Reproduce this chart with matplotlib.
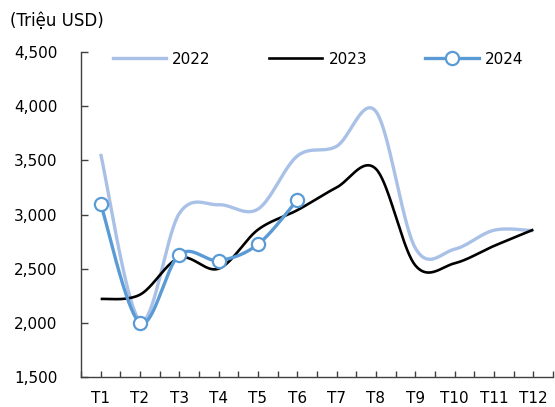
import numpy as np
import matplotlib
matplotlib.use("Agg")
import matplotlib.pyplot as plt
from matplotlib.lines import Line2D

months = ["T1", "T2", "T3", "T4", "T5", "T6", "T7", "T8", "T9", "T10", "T11", "T12"]
v2022 = [3560, 2020, 3010, 3090, 3050, 3540, 3630, 3950, 2690, 2680, 2855, 2850]
v2023 = [2220, 2260, 2600, 2500, 2860, 3040, 3250, 3420, 2530, 2550, 2710, 2860]
v2024 = [3100, 2000, 2630, 2575, 2725, 3135]

c2022 = "#A9C1E6"
c2023 = "#000000"
c2024 = "#5B9BD5"


def smooth(values, n=40):
    """Bezier smoothing through every point (Catmull-Rom control points)."""
    y = np.asarray(values, dtype=float)
    x = np.arange(len(y), dtype=float)
    P = np.column_stack([x, y])
    P = np.vstack([P[0], P, P[-1]])
    xs, ys = [], []
    t = np.linspace(0, 1, n)[:, None]
    for i in range(1, len(P) - 2):
        p0, p1, p2, p3 = P[i - 1], P[i], P[i + 1], P[i + 2]
        c1 = p1 + (p2 - p0) / 6.0
        c2 = p2 - (p3 - p1) / 6.0
        b = ((1 - t) ** 3) * p1 + 3 * ((1 - t) ** 2) * t * c1 + 3 * (1 - t) * t ** 2 * c2 + t ** 3 * p2
        xs.append(b[:, 0])
        ys.append(b[:, 1])
    return np.concatenate(xs), np.concatenate(ys)


plt.rcParams["font.family"] = ["DejaVu Sans"]
fig = plt.figure(figsize=(5.55, 4.07), dpi=100)
ax = fig.add_axes([81 / 555, 30 / 407, 472 / 555, 325 / 407])

x, y = smooth(v2022)
ax.plot(x, y, color=c2022, lw=2.4, solid_capstyle="butt")
x, y = smooth(v2023)
ax.plot(x, y, color=c2023, lw=1.9, solid_capstyle="butt")
x, y = smooth(v2024)
ax.plot(x, y, color=c2024, lw=2.4, solid_capstyle="butt")
ax.plot(np.arange(len(v2024)), v2024, ls="none", marker="o", ms=9.5,
        mfc="white", mec=c2024, mew=1.6, zorder=5)

ax.set_xlim(-0.5, len(months) - 0.5)
ax.set_ylim(1500, 4500)
ax.set_yticks(np.arange(1500, 4501, 500))
ax.set_yticklabels([f"{v:,}" for v in range(1500, 4501, 500)])
ax.set_xticks(np.arange(len(months)))
ax.set_xticklabels(months)
ax.set_xticks(np.arange(-0.5, len(months), 1.0), minor=True)

for s in ["top", "right"]:
    ax.spines[s].set_visible(False)
for s in ["left", "bottom"]:
    ax.spines[s].set_color("#404040")
    ax.spines[s].set_linewidth(1.0)

ax.tick_params(axis="y", direction="in", length=5, width=1, color="#404040",
               labelsize=11, pad=17)
ax.tick_params(axis="x", which="both", direction="in", length=4, width=1,
               color="#404040", labelsize=11, pad=10)

fig.text(10 / 555, 1 - 21 / 407, "(Triệu USD)", fontsize=12, va="center", ha="left")

handles = [
    Line2D([], [], color=c2022, lw=2.4),
    Line2D([], [], color=c2023, lw=1.9),
    Line2D([], [], color=c2024, lw=2.4, marker="o", ms=9.5, mfc="white",
           mec=c2024, mew=1.6),
]
fig.legend(handles, ["2022", "2023", "2024"], ncol=3, frameon=False,
           loc="center", bbox_to_anchor=(318 / 555, 1 - 59 / 407),
           fontsize=11, handlelength=3.5, handletextpad=0.4, columnspacing=3.8)

fig.savefig("out.png", dpi=100)
